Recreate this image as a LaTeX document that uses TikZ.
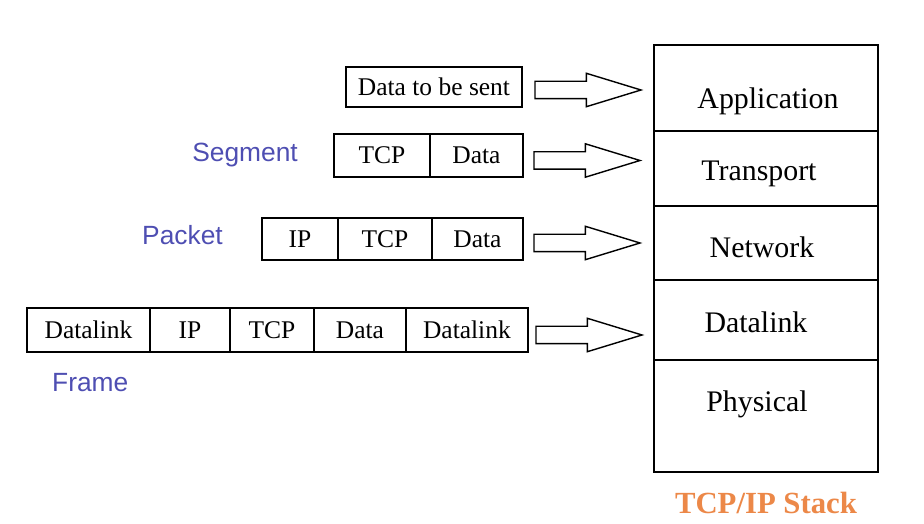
\documentclass[tikz,border=0pt]{standalone}
\usepackage{fontspec}
\setmainfont{Liberation Serif}
\newfontfamily\pdufont{Liberation Sans}
\usetikzlibrary{positioning,shapes.arrows}
\definecolor{pdublue}{RGB}{78,78,178}
\definecolor{stackorange}{RGB}{236,136,72}

\begin{document}
\begin{tikzpicture}[
		x=0.02cm, y=-0.02cm,
		node distance=0pt,
		cell/.style={
			draw=black,
			line width=0.8pt,
			rectangle,
			inner sep=0pt,
			outer sep=0pt,
			font=\fontsize{14.5}{16}\selectfont
		},
		layer/.style={
			draw=black,
			line width=1pt,
			rectangle,
			inner sep=0pt,
			outer sep=0pt,
			minimum width=4.48cm
		},
		layertext/.style={font=\fontsize{17}{20}\selectfont},
		pdu/.style={text=pdublue, font=\pdufont\fontsize{15}{18}\selectfont},
		blockarrow/.style={
			draw=black,
			line width=0.8pt,
			single arrow,
			inner xsep=0pt,
			inner ysep=0.16cm,
			outer sep=0pt,
			single arrow head extend=0.16cm,
			single arrow tip angle=34,
			minimum height=2.12cm,
			anchor=tip
		}
		]
		\useasboundingbox (0,0) rectangle (924,524);
		
		% TCP/IP stack
		\node[layer, minimum height=1.72cm, anchor=north west] (app) at (654,45) {};
		\node[layer, minimum height=1.50cm, below=of app] (trans) {};
		\node[layer, minimum height=1.48cm, below=of trans] (net) {};
		\node[layer, minimum height=1.60cm, below=of net] (link) {};
		\node[layer, minimum height=2.24cm, below=of link] (phys) {};
		
		\node[layertext] at ([xshift=0.04cm, yshift=-0.26cm]app.center) {Application};
		\node[layertext] at ([xshift=-0.14cm, yshift=-0.1cm]trans.center) {Transport};
		\node[layertext] at ([xshift=-0.08cm, yshift=-0.08cm]net.center) {Network};
		\node[layertext] at ([xshift=-0.2cm, yshift=-0.04cm]link.center) {Datalink};
		\node[layertext] at ([xshift=-0.18cm, yshift=0.24cm]phys.center) {Physical};
		\node[text=stackorange, font=\bfseries\fontsize{17.5}{20}\selectfont, below=0.28cm of phys] (stack) {TCP/IP Stack};
		
		% Application data
		\node[cell, minimum width=3.52cm, minimum height=0.8cm, anchor=north west] (msg) at (346,67) {Data to be sent};
		
		% Segment
		\node[cell, minimum width=1.92cm, minimum height=0.86cm, anchor=north west] (segtcp) at (334,134) {TCP};
		\node[cell, minimum width=1.86cm, minimum height=0.86cm, right=of segtcp] (segdata) {Data};
		\node[pdu, left=0.6cm of segtcp] (seglabel) {Segment};
		
		% Packet
		\node[cell, minimum width=1.52cm, minimum height=0.84cm, anchor=north west] (pktip) at (262,218) {IP};
		\node[cell, minimum width=1.88cm, minimum height=0.84cm, right=of pktip] (pkttcp) {TCP};
		\node[cell, minimum width=1.82cm, minimum height=0.84cm, right=of pkttcp] (pktdata) {Data};
		\node[pdu, left=0.66cm of pktip, yshift=0.08cm] (pktlabel) {Packet};
		
		% Frame
		\node[cell, minimum width=2.46cm, minimum height=0.88cm, anchor=north west] (frmhead) at (27,308) {Datalink};
		\node[cell, minimum width=1.60cm, minimum height=0.88cm, right=of frmhead] (frmip) {IP};
		\node[cell, minimum width=1.68cm, minimum height=0.88cm, right=of frmip] (frmtcp) {TCP};
		\node[cell, minimum width=1.84cm, minimum height=0.88cm, right=of frmtcp] (frmdata) {Data};
		\node[cell, minimum width=2.44cm, minimum height=0.88cm, right=of frmdata] (frmtail) {Datalink};
		\node[pdu, below right=0.3cm and 0.38cm of frmhead.south west] (frmlabel) {Frame};
		
		% Arrows into the stack
		\coordinate (tip1) at (msg.east -| app.west);
		\coordinate (tip2) at (segdata.east -| app.west);
		\coordinate (tip3) at (pktdata.east -| app.west);
		\coordinate (tip4) at (frmtail.east -| app.west);
		\node[blockarrow] (arr1) at ([xshift=-0.26cm, yshift=-0.06cm]tip1) {};
		\node[blockarrow] (arr2) at ([xshift=-0.28cm, yshift=-0.1cm]tip2) {};
		\node[blockarrow] (arr3) at ([xshift=-0.28cm, yshift=-0.08cm]tip3) {};
		\node[blockarrow] (arr4) at ([xshift=-0.24cm, yshift=-0.1cm]tip4) {};
	\end{tikzpicture}
\end{document}
